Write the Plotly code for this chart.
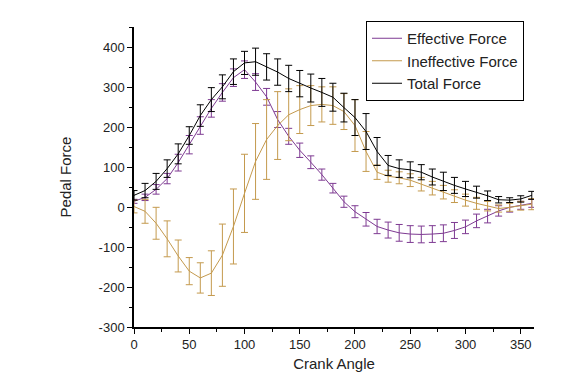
import plotly.graph_objects as go

angle = list(range(0, 361, 10))

effective = [15, 25, 45, 72, 112, 157, 205, 248, 288, 325, 345, 314, 277, 220, 178,
             143, 113, 82, 48, 14, -11, -30, -48, -57, -64, -67, -68, -67, -65, -58,
             -49, -34, -22, -9, 0, 5, 10]
effective_err = [5, 8, 12, 13, 21, 23, 22, 22, 22, 22, 22, 21, 21, 20, 20,
                 18, 16, 14, 12, 14, 15, 17, 18, 20, 21, 21, 21, 21, 21, 20,
                 17, 17, 17, 13, 12, 10, 10]

ineffective = [2, -10, -40, -79, -122, -160, -177, -165, -120, -48, 35, 115, 170, 205, 232,
               245, 255, 258, 255, 240, 205, 140, 88, 78, 74, 68, 58, 48, 38, 28,
               18, 10, 3, -3, 0, 4, 8]
ineffective_err = [16, 30, 40, 45, 40, 34, 38, 56, 78, 94, 98, 95, 100, 85, 65,
                   60, 50, 44, 47, 45, 65, 50, 18, 15, 15, 16, 17, 17, 17, 16,
                   15, 15, 12, 9, 10, 11, 14]

total = [30, 42, 65, 97, 134, 180, 230, 270, 302, 340, 362, 365, 352, 339, 323,
         310, 299, 288, 276, 250, 225, 190, 140, 105, 97, 94, 88, 76, 65, 55,
         46, 38, 29, 19, 18, 21, 30]
total_err = [12, 18, 20, 22, 25, 22, 27, 30, 30, 32, 29, 34, 33, 33, 33,
             33, 35, 35, 35, 36, 45, 45, 35, 25, 22, 20, 19, 20, 23, 20,
             19, 15, 12, 8, 6, 8, 10]

x_ticks = [0, 50, 100, 150, 200, 250, 300, 350]
x_labels = ["0", "50", "100", "150", "200", "250", "300", "350"]
y_ticks = [-300, -200, -100, 0, 100, 200, 300, 400]
y_labels = ["-300", "-200", "-100", "0", "100", "200", "300", "400"]

series = [
    ("Effective Force", effective, effective_err, "#7E3A92"),
    ("Ineffective Force", ineffective, ineffective_err, "#C49A4E"),
    ("Total Force", total, total_err, "#000000"),
]

fig = go.Figure()
for name, vals, errs, col in series:
    fig.add_trace(go.Scatter(
        x=angle, y=vals, name=name, mode="lines",
        line=dict(color=col, width=1),
        error_y=dict(type="data", array=errs, visible=True,
                     color=col, thickness=1, width=3.5),
    ))

# the page body has an 8px margin, so the figure is sized to fit the 584x380 window
font_family = "Liberation Sans, Arial, sans-serif"
fig.update_layout(
    width=568, height=364,
    margin=dict(l=126, r=42, t=19, b=45),
    paper_bgcolor="white", plot_bgcolor="white",
    font=dict(family=font_family, size=13, color="#222222"),
    showlegend=True,
    legend=dict(x=0.58, y=1.02, xanchor="left", yanchor="top",
                bordercolor="black", borderwidth=1, bgcolor="white",
                font=dict(size=15, color="#222222"),
                tracegroupgap=0, itemwidth=30),
)
fig.update_xaxes(
    range=[0, 362], showgrid=False, zeroline=False, automargin=False,
    showline=True, linecolor="black", linewidth=1.5,
    ticks="outside", ticklen=5, tickcolor="black", tickwidth=1,
    tickmode="array", tickvals=x_ticks, ticktext=x_labels,
    minor=dict(ticks="outside", ticklen=3, dtick=25, tickcolor="black", showgrid=False),
    title=dict(text="Crank Angle", font=dict(size=15, color="#222222"), standoff=9),
    tickfont=dict(size=13, color="#222222"),
)
fig.update_yaxes(
    range=[-300, 452], showgrid=False, zeroline=False, automargin=False,
    showline=True, linecolor="black", linewidth=1.5,
    ticks="outside", ticklen=5, tickcolor="black", tickwidth=1,
    tickmode="array", tickvals=y_ticks, ticktext=y_labels,
    minor=dict(ticks="outside", ticklen=3, dtick=50, tickcolor="black", showgrid=False),
    title=dict(text="Pedal Force", font=dict(size=15, color="#222222"), standoff=23),
    tickfont=dict(size=13, color="#222222"),
)

fig.write_html("out.html")
